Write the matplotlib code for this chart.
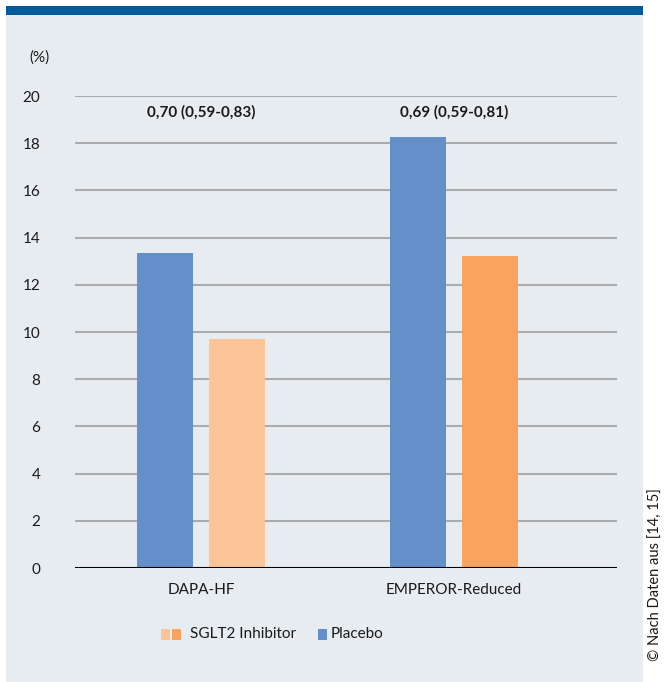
import numpy as np
import matplotlib.pyplot as plt
from matplotlib.patches import Rectangle

plt.rcParams['font.family'] = ['Lato', 'DejaVu Sans']

studies = ['DAPA-HF', 'EMPEROR-Reduced']
placebo = [13.35, 18.25]
sglt2 = [9.7, 13.2]
hr_labels = ['0,70 (0,59-0,83)', '0,69 (0,59-0,81)']
yticks = [0, 2, 4, 6, 8, 10, 12, 14, 16, 18, 20]

c_placebo = '#648fc8'
c_sglt2 = ['#fdc497', '#f9a35e']
c_panel = '#e7ecf1'
c_band = '#005b9a'

W, H = 670, 682
fig = plt.figure(figsize=(W / 100, H / 100), dpi=100)
fig.patch.set_facecolor('white')


def px_rect(x0, y0, x1, y1, color, z=1):
    # rectangle given in pixel coords (y from top)
    fig.add_artist(Rectangle((x0 / W, 1 - y1 / H), (x1 - x0) / W, (y1 - y0) / H,
                             transform=fig.transFigure, facecolor=color, edgecolor='none', zorder=z))


# panel background + top band
px_rect(6, 6, 643, 682, c_panel, 0)
px_rect(6, 6, 643, 15, c_band, 1)

ax = fig.add_axes([75 / W, 1 - 568 / H, (617 - 75) / W, (568 - 96) / H])
ax.set_facecolor('none')

x = np.arange(len(studies))
bw = 0.221
off = 0.142
ax.bar(x - off, placebo, bw, color=c_placebo, zorder=3)
ax.bar(x + off, sglt2, bw, color=c_sglt2, zorder=3)

fs = 11
ax.set_xlim(-0.498, 1.644)
ax.set_ylim(0, 20)
ax.set_yticks(yticks)
ax.set_xticks(x)
ax.set_xticklabels(studies)
ax.tick_params(axis='both', length=0, labelsize=fs, colors='#1a1a1a')
ax.tick_params(axis='y', pad=25)
ax.tick_params(axis='x', pad=11)
for s in ax.spines.values():
    s.set_visible(False)
for t in yticks[1:]:
    ax.axhline(t, color='#a9abad', lw=1.5, zorder=1)
ax.axhline(0, color='black', lw=1.5, zorder=4)

for xi, lab in zip(x, hr_labels):
    ax.text(xi, 19.3, lab, ha='center', va='center', fontsize=fs, fontweight='bold', color='#1a1a1a')

fig.text(40 / W, 1 - 58 / H, '(%)', ha='center', va='center', fontsize=fs, color='#1a1a1a')

# legend, drawn by hand and centred under the chart
renderer = fig.canvas.get_renderer()
t1 = fig.text(0, 1 - 634 / H, 'SGLT2 Inhibitor', ha='left', va='center', fontsize=fs, color='#1a1a1a')
t2 = fig.text(0, 1 - 634 / H, 'Placebo', ha='left', va='center', fontsize=fs, color='#1a1a1a')
w1 = t1.get_window_extent(renderer).width
w2 = t2.get_window_extent(renderer).width
total = 9 + 2 + 9 + 9 + w1 + 22 + 9 + 4 + w2
x0 = 272 - total / 2
px_rect(x0, 629, x0 + 9, 640, c_sglt2[0], 2)
px_rect(x0 + 11, 629, x0 + 20, 640, c_sglt2[1], 2)
t1.set_x((x0 + 29) / W)
xp = x0 + 29 + w1 + 22
px_rect(xp, 629, xp + 9, 640, c_placebo, 2)
t2.set_x((xp + 13) / W)

fig.text(656 / W, 1 - 575 / H, '© Nach Daten aus [14, 15]', rotation=90, ha='center', va='center',
         fontsize=10.5, color='#1a1a1a')

fig.savefig('out.png', dpi=100)
